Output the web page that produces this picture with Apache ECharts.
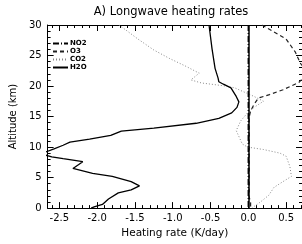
<!DOCTYPE html>
<html><head><meta charset="utf-8">
<script src="https://cdn.jsdelivr.net/npm/echarts@6/dist/echarts.min.js"></script>
<style>html,body{margin:0;padding:0;background:#fff}#c{width:302px;height:244px}</style>
</head><body><div id="c"></div>
<script>
// Altitude (km) / heating rate (K/day) pairs
const h2oAlt = [30, 26.1, 22.9, 21.3, 20.7, 20.3, 19.7, 18.3, 17.4, 16.5, 15.6, 14.7, 13.9, 13.1, 12.6, 11.9, 11.3, 10.8, 10.3, 9.7, 9.2, 8.8, 8.4, 8.1, 7.6, 7.3, 6.5, 5.7, 5.2, 4.35, 3.65, 3.0, 2.5, 1.5, 0.6, 0.2, 0];
const h2oVal = [-0.52, -0.48, -0.44, -0.40, -0.39, -0.33, -0.23, -0.16, -0.125, -0.15, -0.22, -0.39, -0.69, -1.25, -1.68, -1.82, -2.10, -2.36, -2.45, -2.57, -2.68, -2.72, -2.60, -2.45, -2.19, -2.20, -2.32, -2.06, -1.80, -1.55, -1.44, -1.55, -1.72, -1.85, -1.93, -2.04, -2.08];

const co2Alt = [30, 27.7, 25.9, 24.5, 23.2, 22.1, 21.0, 20.5, 20.0, 19.7, 18.3, 17.5, 16.5, 15.6, 14.3, 12.7, 11.6, 10.5, 10.0, 9.6, 9.0, 8.5, 6.8, 5.2, 4.35, 3.4, 2.1, 1.0, 0.3, 0];
const co2Val = [-1.71, -1.46, -1.25, -1.04, -0.82, -0.65, -0.76, -0.62, -0.30, -0.18, 0.075, 0.20, 0.075, -0.01, -0.10, -0.16, -0.12, -0.08, -0.01, 0.20, 0.42, 0.50, 0.55, 0.57, 0.46, 0.34, 0.27, 0.16, 0.08, 0.05];

const o3Alt = [30, 27.7, 25.6, 23.7, 22.3, 21.5, 20.6, 19.4, 18.6, 18.1, 17.8, 17.0, 15.9, 14.8, 12, 9, 6, 3, 1.9, 0.85, 0];
const o3Val = [0.18, 0.50, 0.62, 0.69, 0.78, 0.74, 0.67, 0.46, 0.28, 0.15, 0.12, 0.075, 0.03, 0.01, 0.01, 0.01, 0.01, 0.01, 0.01, 0.03, 0.03];

const no2Alt = [30, 0];
const no2Val = [0, 0];

const xMajor = [-2.5, -2.0, -1.5, -1.0, -0.5, 0.0, 0.5];
const xMinor = [-2.6,-2.4,-2.3,-2.2,-2.1,-1.9,-1.8,-1.7,-1.6,-1.4,-1.3,-1.2,-1.1,-0.9,-0.8,-0.7,-0.6,-0.4,-0.3,-0.2,-0.1,0.1,0.2,0.3,0.4,0.6,0.7];

const xMin = -2.655, xMax = 0.71;
const FONT = 'DejaVu Sans';
const pairs = (a, v) => a.map((y, i) => [v[i], y]);

function xAx(pos, ticks, len, labels, line) {
  return {
    type: 'value', position: pos, min: xMin, max: xMax,
    axisLine: {show: line, onZero: false, lineStyle: {color: '#000', width: 1}},
    axisTick: {show: true, inside: true, length: len, customValues: ticks, lineStyle: {color: '#000', width: 1}},
    axisLabel: labels ? {show: true, customValues: ticks, formatter: v => v.toFixed(1), color: '#000', fontSize: 10, fontFamily: FONT, margin: 5} : {show: false},
    splitLine: {show: false}
  };
}
function yAx(pos, labels) {
  return {
    type: 'value', position: pos, min: 0, max: 30, interval: 5,
    axisLine: {show: true, onZero: false, lineStyle: {color: '#000', width: 1}},
    axisTick: {show: true, inside: true, length: 6, lineStyle: {color: '#000', width: 1}},
    minorTick: {show: true, splitNumber: 5, length: 3, lineStyle: {color: '#000', width: 1}},
    axisLabel: labels ? {show: true, formatter: v => String(v), color: '#000', fontSize: 10, fontFamily: FONT, margin: 6} : {show: false},
    splitLine: {show: false}, minorSplitLine: {show: false}
  };
}

const chart = echarts.init(document.getElementById('c'), null, {renderer: 'canvas'});
const xs = [xAx('bottom', xMajor, 6, true, true), xAx('bottom', xMinor, 3, false, false), xAx('top', xMajor, 6, false, true), xAx('top', xMinor, 3, false, false)];
xs[0].name = 'Heating rate (K/day)';
xs[0].nameLocation = 'middle';
xs[0].nameGap = 17;
xs[0].nameTextStyle = {color: '#000', fontSize: 10.5, fontFamily: FONT};
const ys = [yAx('left', true), yAx('right', false)];
ys[0].name = 'Altitude (km)';
ys[0].nameLocation = 'middle';
ys[0].nameGap = 22;
ys[0].nameTextStyle = {color: '#000', fontSize: 10, fontFamily: FONT};

chart.setOption({
  animation: false,
  backgroundColor: '#fff',
  grid: {left: 40, top: 25, right: -1, bottom: 32, containLabel: false},
  graphic: [{type: 'text', x: 171, y: 6, style: {text: 'A) Longwave heating rates', fill: '#000', font: '11.5px "DejaVu Sans"', textAlign: 'center', textVerticalAlign: 'top'}}],
  legend: {
    orient: 'vertical', left: 47, top: 35, itemWidth: 15, itemHeight: 6, itemGap: 1,
    itemStyle: {opacity: 0},
    textStyle: {fontSize: 7, fontWeight: 'bold', color: '#000', fontFamily: FONT, padding: [0, 0, 0, -3]},
    data: ['NO2', 'O3', 'CO2', 'H2O']
  },
  xAxis: xs,
  yAxis: ys,
  series: [
    {name: 'NO2', type: 'line', xAxisIndex: 0, yAxisIndex: 0, symbol: 'none', data: pairs(no2Alt, no2Val),
     lineStyle: {color: '#000', width: 1.5, type: [6, 2, 1, 2]}, itemStyle: {color: '#000'},
     markLine: {silent: true, symbol: 'none', label: {show: false}, lineStyle: {color: '#000', width: 1.5, type: 'solid'}, data: [{xAxis: 0}]}},
    {name: 'O3', type: 'line', xAxisIndex: 0, yAxisIndex: 0, symbol: 'none', data: pairs(o3Alt, o3Val),
     lineStyle: {color: '#222', width: 1.2, type: [4, 3]}, itemStyle: {color: '#555'}},
    {name: 'CO2', type: 'line', xAxisIndex: 0, yAxisIndex: 0, symbol: 'none', data: pairs(co2Alt, co2Val),
     lineStyle: {color: '#888', width: 1, type: [1, 2]}, itemStyle: {color: '#888'}},
    {name: 'H2O', type: 'line', xAxisIndex: 0, yAxisIndex: 0, symbol: 'none', data: pairs(h2oAlt, h2oVal),
     lineStyle: {color: '#000', width: 1.3, type: 'solid'}, itemStyle: {color: '#000'}}
  ]
});
</script></body></html>
